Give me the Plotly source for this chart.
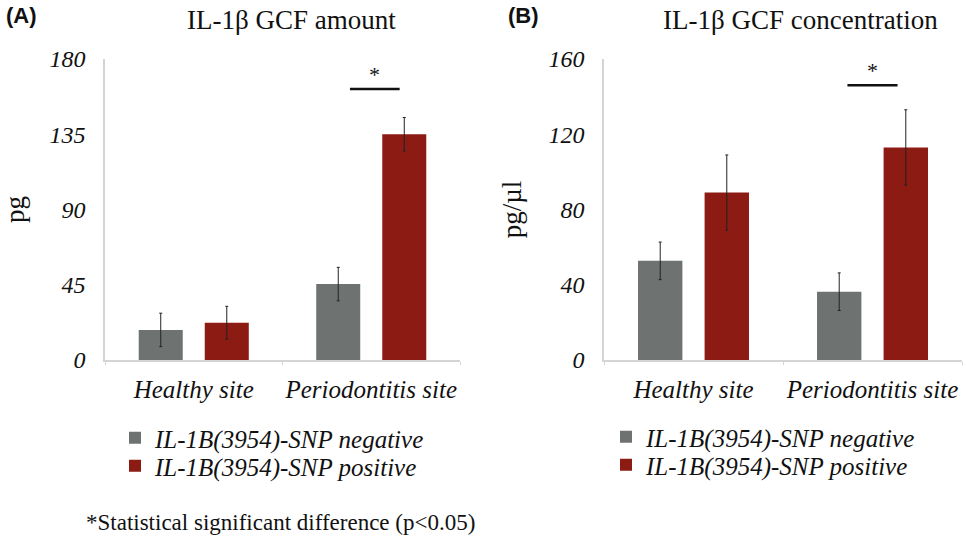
import plotly.graph_objects as go

# ---- data ----
categories = ["Healthy site", "Periodontitis site"]
series_names = ["IL-1B(3954)-SNP negative", "IL-1B(3954)-SNP positive"]

amount_neg = [18, 45.4]
amount_neg_err = [10, 10]
amount_pos = [22.3, 135]
amount_pos_err = [9.8, 10]

conc_neg = [52.7, 36.3]
conc_neg_err = [10, 10]
conc_pos = [89, 113]
conc_pos_err = [20, 20]

amount_ticks = [0, 45, 90, 135, 180]
conc_ticks = [0, 40, 80, 120, 160]

sig_amount = 162
sig_conc = 146

panel_a_title = "IL-1β GCF amount"
panel_b_title = "IL-1β GCF concentration"
footnote = "*Statistical significant difference (p<0.05)"

# ---- styles ----
GRAY = "#6e7371"
RED = "#8b1b13"
SERIF = "Liberation Serif, Times New Roman, serif"
SANS = "Liberation Sans, Arial, sans-serif"
AXIS_COL = "#d4d4d4"
W, H = 966, 538

fig = go.Figure()

def add_bars(vals, errs, name, color, xa, ya, legend):
    fig.add_trace(go.Bar(
        x=categories, y=vals, name=name, marker=dict(color=color, line=dict(width=0)),
        error_y=dict(type="data", array=errs, color="#222222", thickness=1, width=1.5),
        xaxis=xa, yaxis=ya, legend=legend,
    ))

add_bars(amount_neg, amount_neg_err, series_names[0], GRAY, "x", "y", "legend")
add_bars(amount_pos, amount_pos_err, series_names[1], RED, "x", "y", "legend3")
add_bars(conc_neg, conc_neg_err, series_names[0], GRAY, "x2", "y2", "legend2")
add_bars(conc_pos, conc_pos_err, series_names[1], RED, "x2", "y2", "legend4")

def px_x(p):
    return p / W

def px_y(p):
    return 1 - p / H

xaxis_common = dict(
    type="category", showline=True, linecolor=AXIS_COL, linewidth=1.5,
    ticks="outside", tickson="boundaries", ticklen=3, tickcolor=AXIS_COL,
    tickangle=0,
    tickfont=dict(family=SERIF, size=25, color="#111", style="italic"),
    ticklabelstandoff=6, showgrid=False, zeroline=False, fixedrange=True,
)
yaxis_common = dict(
    showline=True, linecolor=AXIS_COL, linewidth=1.5, ticks="",
    tickfont=dict(family=SERIF, size=24, color="#111", style="italic"),
    ticklabelstandoff=13, showgrid=False, zeroline=False, fixedrange=True,
)

legend_font = dict(family=SERIF, size=25, color="#111", style="italic")

def legend_box(xp, yp):
    return dict(x=px_x(xp), y=px_y(yp), xanchor="left", yanchor="middle",
                font=legend_font, bgcolor="rgba(0,0,0,0)", itemclick=False,
                itemdoubleclick=False)

fig.update_layout(
    width=W, height=H, margin=dict(l=0, r=0, t=0, b=0, autoexpand=False),
    paper_bgcolor="white", plot_bgcolor="white",
    barmode="group", bargap=0.256, bargroupgap=1 / 3,
    xaxis=dict(domain=[px_x(105), px_x(460)], anchor="y", **xaxis_common),
    yaxis=dict(domain=[px_y(360), px_y(59)], anchor="x", range=[0, 180],
               tickvals=amount_ticks,
               title=dict(text="pg", font=dict(family=SERIF, size=27, color="#111"), standoff=45),
               **yaxis_common),
    xaxis2=dict(domain=[px_x(604), px_x(962)], anchor="y2", **xaxis_common),
    yaxis2=dict(domain=[px_y(360), px_y(59)], anchor="x2", range=[0, 160],
                tickvals=conc_ticks,
                title=dict(text="pg/µl", font=dict(family=SERIF, size=27, color="#111"), standoff=19),
                **yaxis_common),
    legend=legend_box(115, 438),
    legend3=legend_box(115, 466),
    legend2=legend_box(606, 437),
    legend4=legend_box(606, 465),
    showlegend=True,
)

annotations = [
    dict(text=panel_a_title, x=px_x(291), y=px_y(20), xref="paper", yref="paper",
         xanchor="center", yanchor="middle",
         showarrow=False, font=dict(family=SERIF, size=27, color="#111")),
    dict(text=panel_b_title, x=px_x(800), y=px_y(20), xref="paper", yref="paper",
         xanchor="center", yanchor="middle",
         showarrow=False, font=dict(family=SERIF, size=27, color="#111")),
    dict(text="<b>(A)</b>", x=px_x(4), y=px_y(15), xref="paper", yref="paper",
         xanchor="left", yanchor="middle", showarrow=False,
         font=dict(family=SANS, size=22, color="#111")),
    dict(text="<b>(B)</b>", x=px_x(506), y=px_y(15), xref="paper", yref="paper",
         xanchor="left", yanchor="middle", showarrow=False,
         font=dict(family=SANS, size=22, color="#111")),
    dict(text=footnote, x=px_x(280), y=px_y(522), xref="paper", yref="paper",
         xanchor="center", yanchor="middle",
         showarrow=False, font=dict(family=SERIF, size=23, color="#111")),
    dict(text="*", x=1.02, y=sig_amount, xref="x", yref="y", yanchor="bottom",
         xanchor="center", showarrow=False, font=dict(family=SERIF, size=22, color="#111")),
    dict(text="*", x=1.0, y=sig_conc, xref="x2", yref="y2", yanchor="bottom",
         xanchor="center", showarrow=False, font=dict(family=SERIF, size=22, color="#111")),
]
fig.update_layout(annotations=annotations)

shapes = [
    dict(type="line", xref="x", yref="y", x0=0.88, x1=1.16, y0=sig_amount, y1=sig_amount,
         line=dict(color="#111", width=2.5)),
    dict(type="line", xref="x2", yref="y2", x0=0.86, x1=1.14, y0=sig_conc, y1=sig_conc,
         line=dict(color="#111", width=2.5)),
]
fig.update_layout(shapes=shapes)

fig.write_html(
    "out.html",
    config={"displayModeBar": False},
    post_script="document.body.style.margin='0';document.body.style.overflow='hidden';",
)
